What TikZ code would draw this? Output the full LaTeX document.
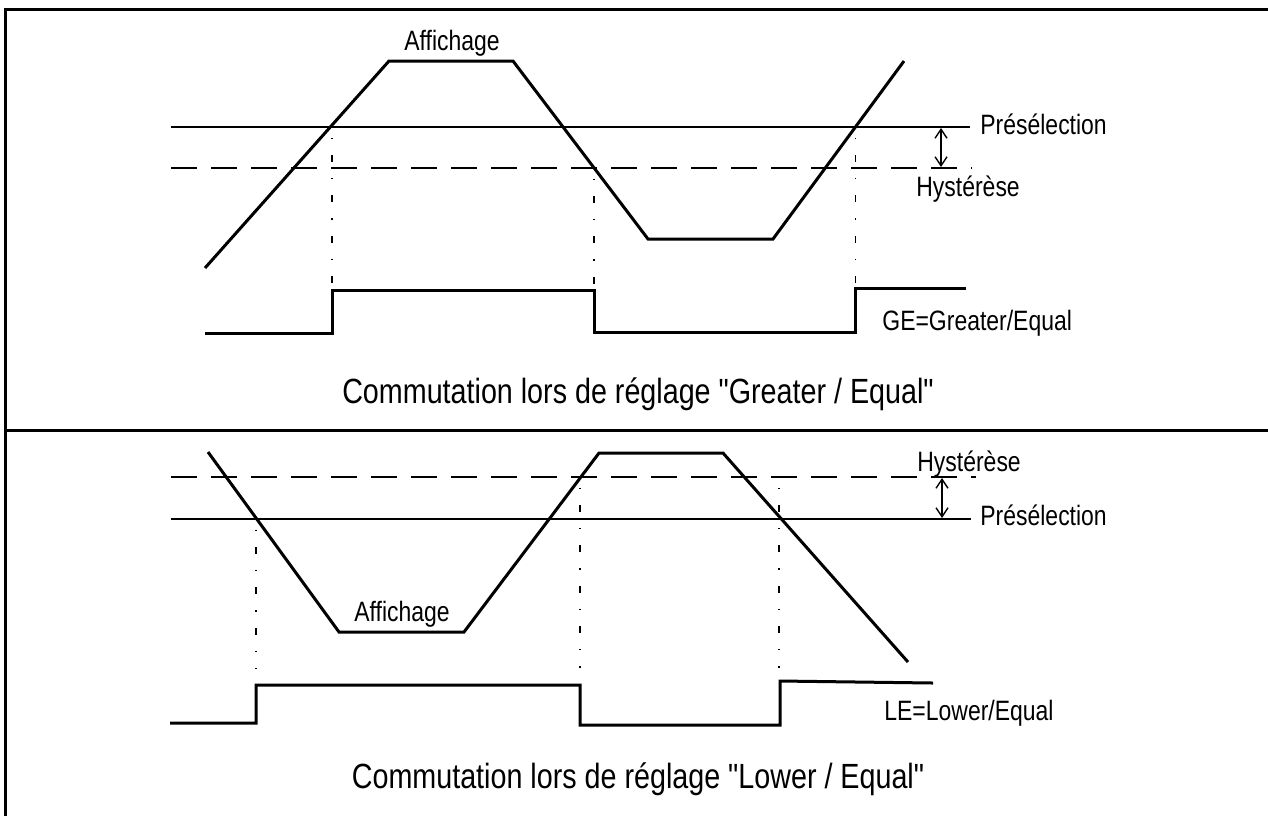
\documentclass[tikz,border=0pt]{standalone}
\usepackage{fontspec}
\setmainfont[FakeStretch=0.82, Ligatures=TeXOff]{Liberation Sans}
\usetikzlibrary{arrows.meta}
\begin{document}
\begin{tikzpicture}[x=0.5pt, y=-0.5pt,
    frame/.style={line width=1.5pt},
    sig/.style={line width=1.5pt, line join=miter},
    thres/.style={line width=1.4pt},
    hyst/.style={line width=0.8pt, dash pattern=on 13pt off 7pt},
    guide/.style={line width=0.55pt, dash pattern=on 3.5pt off 8pt on 0.6pt off 8pt, dash phase=6pt},
    gap/.style={line width=0.7pt, {Straight Barb[length=4.5pt,width=6pt]}-{Straight Barb[length=4.5pt,width=6pt]}},
    lbl/.style={font=\fontsize{14}{16}\selectfont, inner sep=0pt},
    captxt/.style={font=\fontsize{17.5}{20}\selectfont, inner sep=0pt}]
      \useasboundingbox (0, 0) rectangle (1268, 816);
      \draw[frame](5.5, 816) to (5.5, 9.5) to (1268, 9.5);
      \draw[frame](5.5, 430) to (1268, 430);

      \draw[thres](171, 127) to (970, 127);
      \draw[hyst](171, 168) to (972, 168);
      \draw[sig](205, 268) -- (389, 61) -- (513, 61) -- (648, 239) -- (773, 239) -- (904, 61);
      \draw[guide](332, 127) to (332, 290);
      \draw[guide](594, 168) to (594, 290);
      \draw[guide](855.5, 127) to (855.5, 288);
      \draw[sig](205, 333) -- (332, 333) -- (332, 290) -- (594, 290) -- (594, 332)
        -- (855.5, 332) -- (855.5, 288) -- (966, 288);
      \draw[gap](941, 128) to (941, 167);

      \node[lbl, anchor=base] (affGE) at (452, 50){Affichage};
      \node[lbl, anchor=base west] (preGE) at (980, 134){Présélection};
      \node[lbl, anchor=base west] (hysGE) at (916, 196){Hystérèse};
      \node[lbl, anchor=base west] (outGE) at (882, 330){GE=Greater/Equal};
      \node[captxt, anchor=base] (capGE) at (638, 403){Commutation lors de réglage "Greater / Equal"};

      \draw[hyst](171, 477) to (976, 477);
      \draw[thres](171, 519) to (971, 519);
      \draw[sig](208, 452) -- (339, 632) -- (464, 632) -- (599, 453) -- (723, 453) -- (908, 662);
      \draw[guide](256, 519) to (256, 668);
      \draw[guide](580, 477) to (580, 668);
      \draw[guide](779, 477) to (779, 668);
      \draw[sig](170, 723) -- (256, 723) -- (256, 685) -- (580, 685) -- (580, 725)
        -- (780, 725) -- (780, 681) -- (933, 683);
      \draw[gap](942, 478) to (942, 518);

      \node[lbl, anchor=base] (affLE) at (402, 621){Affichage};
      \node[lbl, anchor=base west] (hysLE) at (917, 471){Hystérèse};
      \node[lbl, anchor=base west] (preLE) at (980, 525){Présélection};
      \node[lbl, anchor=base west] (outLE) at (884, 720){LE=Lower/Equal};
      \node[captxt, anchor=base] (capLE) at (638, 788){Commutation lors de réglage "Lower / Equal"};
    \end{tikzpicture}
\end{document}
